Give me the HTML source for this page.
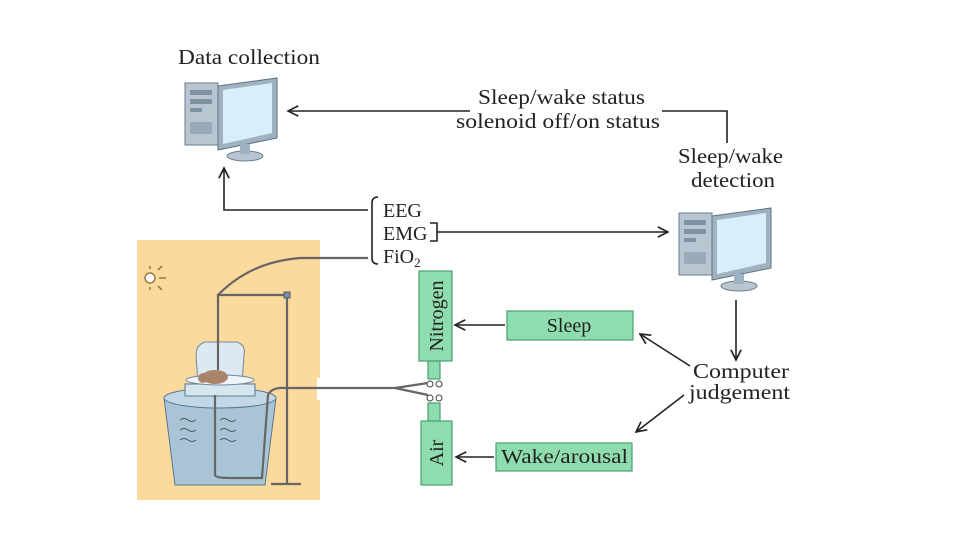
<!DOCTYPE html>
<html><head><meta charset="utf-8"><style>
html,body{margin:0;padding:0;background:#fff}
svg{display:block}
text{font-family:"Liberation Serif",serif;fill:#222}
</style></head><body>
<svg width="960" height="540" viewBox="0 0 960 540" xmlns="http://www.w3.org/2000/svg">
<defs>
<marker id="a" viewBox="0 0 10 10" refX="9" refY="5" markerWidth="8" markerHeight="8" orient="auto-start-reverse"><path d="M1,1 L9,5 L1,9" fill="none" stroke="#222" stroke-width="1.3"/></marker>
<g id="pc">
<rect x="0" y="5" width="33" height="62" fill="#b8c6d2" stroke="#6b7d8c"/>
<rect x="5" y="12" width="22" height="5" fill="#7f92a2"/>
<rect x="5" y="21" width="22" height="5" fill="#7f92a2"/>
<rect x="5" y="30" width="12" height="4" fill="#7f92a2"/>
<rect x="5" y="44" width="22" height="12" fill="#9aabb8"/>
<polygon points="33,8 92,0 92,60 33,72" fill="#9fb2c2" stroke="#5f7282"/>
<polygon points="38,12 87,5 87,55 38,66" fill="#d8eef8"/>
<ellipse cx="60" cy="78" rx="18" ry="5" fill="#b8c6d2" stroke="#6b7d8c"/>
<rect x="55" y="66" width="10" height="10" fill="#9fb2c2"/>
</g>
</defs>
<rect x="137" y="240" width="183" height="260" fill="#fcd99c"/>
<rect x="317" y="378" width="6" height="22" fill="#fff"/>
<g stroke="#8a6a30" stroke-width="1.3"><circle cx="150" cy="278" r="5" fill="#fff"/><line x1="150" y1="266" x2="150" y2="269"/><line x1="150" y1="287" x2="150" y2="290"/><line x1="158" y1="270" x2="162" y2="266"/><line x1="159" y1="278" x2="166" y2="278"/><line x1="158" y1="286" x2="162" y2="290"/></g>
<polygon points="164,398 276,398 265,485 175,485" fill="#a8c4d6" stroke="#5a7a90"/>
<ellipse cx="220" cy="398" rx="56" ry="10" fill="#c2d8e6" stroke="#5a7a90"/>
<rect x="185" y="384" width="70" height="12" fill="#d6e6ee" stroke="#5a7a90"/>
<path d="M198,384 L196,355 Q196,345 205,342 L237,342 Q246,345 244,355 L242,384 Z" fill="#dde9f2" stroke="#6a8aa0"/>
<ellipse cx="220" cy="380" rx="34" ry="5" fill="#eef4f8" stroke="#6a8aa0"/>
<ellipse cx="215" cy="377" rx="13" ry="7" fill="#a9846a"/>
<circle cx="203" cy="378" r="5" fill="#a9846a"/>
<g fill="none" stroke="#555" stroke-width="1"><path d="M180,420 q4,-3 8,0 q4,3 8,0"/><path d="M180,430 q4,-3 8,0 q4,3 8,0"/><path d="M180,440 q4,-3 8,0 q4,3 8,0"/><path d="M220,420 q4,-3 8,0 q4,3 8,0"/><path d="M220,430 q4,-3 8,0 q4,3 8,0"/><path d="M220,440 q4,-3 8,0 q4,3 8,0"/></g>
<g fill="none" stroke="#666" stroke-width="2.2">
<path d="M218,370 L218,295 L287,295"/>
<path d="M218,295 Q250,262 300,258 L368,258"/>
<path d="M287,295 L287,483"/>
<path d="M271,484 L301,484"/>
<path d="M215,395 L215,475 Q215,478 230,478 L262,478 L268,395 Q272,387 285,388 L395,388 L428,383"/>
<path d="M395,388 L428,395"/>
</g>
<rect x="284" y="292" width="6" height="6" fill="#7890a8" stroke="#555"/>
<use href="#pc" x="185" y="78"/>
<use href="#pc" x="679" y="208"/>
<text x="178" y="64" font-size="21" textLength="142" lengthAdjust="spacingAndGlyphs">Data collection</text>
<text x="478" y="104" font-size="21" textLength="167" lengthAdjust="spacingAndGlyphs">Sleep/wake status</text>
<text x="456" y="128" font-size="21" textLength="204" lengthAdjust="spacingAndGlyphs">solenoid off/on status</text>
<text x="678" y="163" font-size="21" textLength="105" lengthAdjust="spacingAndGlyphs">Sleep/wake</text>
<text x="691" y="187" font-size="21" textLength="84" lengthAdjust="spacingAndGlyphs">detection</text>
<text x="383" y="217" font-size="20">EEG</text>
<text x="383" y="240" font-size="20">EMG</text>
<text x="383" y="263" font-size="20">FiO<tspan font-size="13" dy="4">2</tspan></text>
<text x="693" y="378" font-size="21" textLength="96" lengthAdjust="spacingAndGlyphs">Computer</text>
<text x="689" y="399" font-size="21" textLength="101" lengthAdjust="spacingAndGlyphs">judgement</text>
<g fill="none" stroke="#222" stroke-width="1.6">
<path d="M470,111 L288,111" marker-end="url(#a)"/>
<path d="M662,111 L727,111 L727,143"/>
<path d="M368,210 L224,210 L224,168" marker-end="url(#a)"/>
<path d="M378,197 Q372,197 372,203 L372,258 Q372,264 378,264"/>
<path d="M430,223 L437,223 L437,241 L430,241"/>
<path d="M437,232 L668,232" marker-end="url(#a)"/>
<path d="M736,300 L736,360" marker-end="url(#a)"/>
<path d="M690,366 L640,334" marker-end="url(#a)"/>
<path d="M684,395 L636,432" marker-end="url(#a)"/>
<path d="M505,325 L455,325" marker-end="url(#a)"/>
<path d="M494,457 L456,457" marker-end="url(#a)"/>
</g>
<g fill="#8fdcae" stroke="#4aa070" stroke-width="1.2">
<rect x="419" y="271" width="33" height="90"/>
<rect x="428" y="361" width="12" height="18"/>
<rect x="428" y="403" width="12" height="18"/>
<rect x="421" y="421" width="31" height="64"/>
<rect x="507" y="311" width="126" height="29"/>
<rect x="496" y="443" width="136" height="28"/>
</g>
<g fill="#fff" stroke="#444" stroke-width="1"><circle cx="430" cy="384" r="3"/><circle cx="439" cy="384" r="3"/><circle cx="430" cy="398" r="3"/><circle cx="439" cy="398" r="3"/></g>
<text transform="translate(443,316) rotate(-90)" font-size="20" text-anchor="middle">Nitrogen</text>
<text transform="translate(443,453) rotate(-90)" font-size="20" text-anchor="middle">Air</text>
<text x="569" y="332" font-size="20" text-anchor="middle">Sleep</text>
<text x="501" y="463" font-size="20" textLength="127" lengthAdjust="spacingAndGlyphs">Wake/arousal</text>
</svg>
</body></html>
